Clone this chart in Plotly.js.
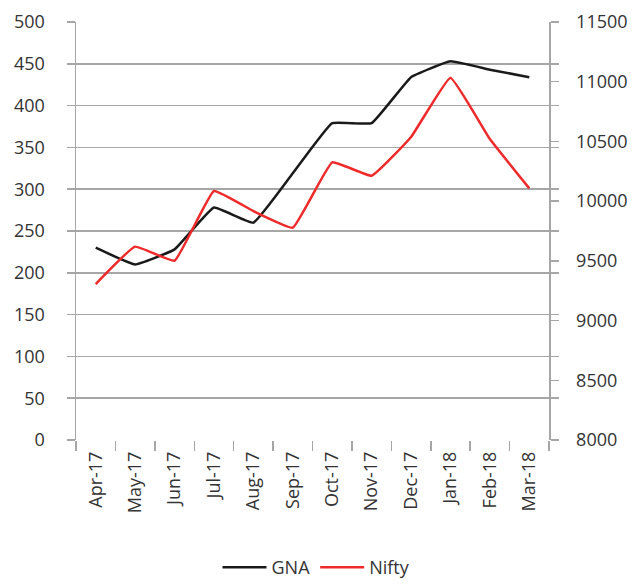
<!DOCTYPE html>
<html>
<head>
<meta charset="utf-8">
<script src="https://cdn.plot.ly/plotly-3.0.1.min.js"></script>
<style>html,body{margin:0;padding:0;background:#fff;}#chart{width:633px;height:588px;}</style>
</head>
<body>
<div id="chart"></div>
<script>
const months = ["Apr-17","May-17","Jun-17","Jul-17","Aug-17","Sep-17","Oct-17","Nov-17","Dec-17","Jan-18","Feb-18","Mar-18"];
const gna = [230, 210, 228, 278, 260, 319, 379, 379, 434, 453, 443, 434];
const nifty = [9306, 9619, 9501, 10085, 9917, 9778, 10325, 10213, 10537, 11034, 10520, 10107];
const leftTicks = [0,50,100,150,200,250,300,350,400,450,500];
const rightTicks = [8000,8500,9000,9500,10000,10500,11000,11500];
const rightTickText = ["8000","8500","9000","9500","10000","10500","11000","11500"];

const grid = '#a6a6a6';
const font = {family: '"Open Sans", Lato, sans-serif', size: 18, color: '#333333'};

const data = [
  {x: months, y: gna, name: 'GNA', type: 'scatter', mode: 'lines',
   line: {color: '#1a1a1a', width: 2.5, shape: 'spline', smoothing: 0.3}, yaxis: 'y'},
  {x: months, y: nifty, name: 'Nifty', type: 'scatter', mode: 'lines',
   line: {color: '#ee2a2a', width: 2.5, shape: 'spline', smoothing: 0.3}, yaxis: 'y2'}
];

const layout = {
  width: 633, height: 588,
  margin: {l: 76, r: 84, t: 22, b: 148, autoexpand: false},
  paper_bgcolor: '#fff', plot_bgcolor: '#fff',
  font: font,
  showlegend: true,
  legend: {orientation: 'h', x: 0.5, xanchor: 'center', xref: 'container',
           y: 2/588, yanchor: 'bottom', yref: 'container',
           font: font, itemwidth: 44},
  xaxis: {type: 'category', tickson: 'boundaries', ticks: 'outside', ticklen: 10,
          tickcolor: grid, tickwidth: 1.5, tickangle: -90, showgrid: false,
          showline: false, zeroline: false, tickfont: font, range: [-0.5, 11.5],
          automargin: false, ticklabelstandoff: 7},
  yaxis: {range: [0, 500], tickvals: leftTicks, ticks: 'outside', ticklen: 8,
          tickcolor: grid, tickwidth: 1.5, showgrid: true, gridcolor: grid, gridwidth: 1.5,
          showline: true, linecolor: grid, linewidth: 1.5, mirror: 'ticks',
          zeroline: false, tickfont: font, ticklabelstandoff: 18, automargin: false},
  yaxis2: {range: [8000, 11500], tickvals: rightTicks, ticktext: rightTickText,
           overlaying: 'y', side: 'right',
           ticks: 'outside', ticklen: 8, tickcolor: grid, tickwidth: 1.5,
           showgrid: false, showline: true, linecolor: grid, linewidth: 1.5,
           zeroline: false, tickfont: font, ticklabelstandoff: 14, automargin: false}
};

Plotly.newPlot('chart', data, layout, {displayModeBar: false, staticPlot: true});
</script>
</body>
</html>
